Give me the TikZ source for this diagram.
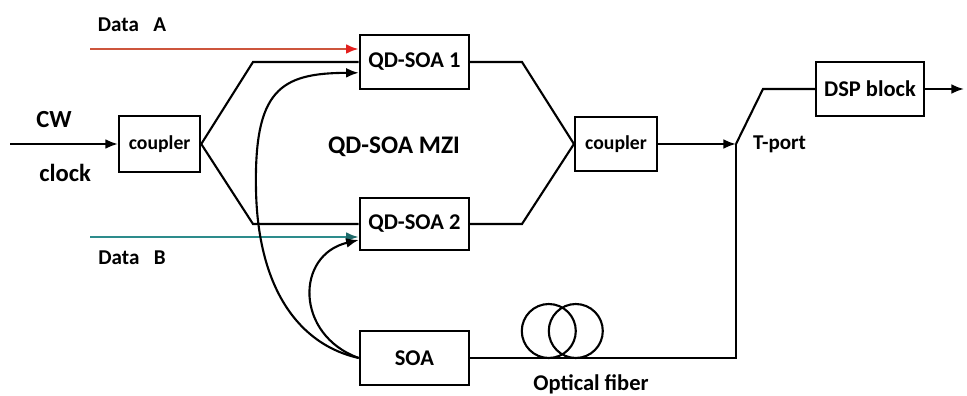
\documentclass[tikz,border=0pt]{standalone}
\usepackage{fontspec}
\setmainfont{Carlito}
\usetikzlibrary{arrows.meta}
\definecolor{dataRed}{RGB}{205,85,60}
\definecolor{tipRed}{RGB}{228,32,30}
\definecolor{dataTeal}{RGB}{45,140,140}
\definecolor{tipTeal}{RGB}{30,105,105}
\tikzset{
    block/.style={draw, line width=1.5pt, inner sep=0pt,
        minimum width=2.73cm, minimum height=1.35cm,
        font=\fontsize{16}{18}\selectfont\bfseries},
    cbox/.style={block, minimum width=2.03cm, minimum height=1.4cm,
        font=\fontsize{14}{16}\selectfont\bfseries},
    lbl/.style={font=\fontsize{15}{17}\selectfont\bfseries, inner sep=0pt}
}
\begin{document}
\begin{tikzpicture}[line width=1.5pt, >={Latex[length=9pt,width=7pt]}]
\useasboundingbox (0,0) rectangle (24.175,9.9);
%Bloecke
    \node[cbox] (cplA) at (3.99,6.3) {coupler};
    \node[block] (qdA) at (10.36,8.35) {QD-SOA 1};
    \node[block, minimum height=1.3cm] (qdB) at (10.36,4.3) {QD-SOA 2};
    \node[block] (soa) at (10.36,0.95) {SOA};
    \node[cbox, minimum width=2.05cm, minimum height=1.35cm] (cplB) at (15.4,6.3) {coupler};
    \node[block, minimum width=2.7cm] (dsp) at (21.75,7.675) {DSP block};

%Punkte
    \coordinate (cwIn) at (0.25,6.3);
    \coordinate (dataAIn) at (2.25,8.675);
    \coordinate (dataBIn) at (2.25,3.975);
    \coordinate (kneeUL) at (6.325,8.35);
    \coordinate (kneeLL) at (6.325,4.3);
    \coordinate (kneeUR) at (13.05,8.35);
    \coordinate (kneeLR) at (13.05,4.3);
    \coordinate (tport) at (18.4,6.3);
    \coordinate (tcorner) at (18.4,0.95);
    \coordinate (tknee) at (19.075,7.675);
    \coordinate (dspOut) at (24.1,7.675);

%MZI
    \draw[->] (cwIn) -- (cplA.west);
    \draw (cplA.east) -- (kneeUL) -- (qdA.west);
    \draw (cplA.east) -- (kneeLL) -- (qdB.west);
    \draw (qdA.east) -- (kneeUR) -- (cplB.west);
    \draw (qdB.east) -- (kneeLR) -- (cplB.west);

    %Daten
    \draw[dataRed, line width=1.9pt, -{Latex[length=9pt,width=7pt,color=tipRed]}]
        (dataAIn) -- (dataAIn -| qdA.west);
    \draw[dataTeal, line width=1.9pt, -{Latex[length=9pt,width=7pt,color=tipTeal]}]
        (dataBIn) -- (dataBIn -| qdB.west);

    %SOA Rueckfuehrung
    \draw[->] (soa.west) .. controls (7.5,1.275) and (6.45,2.65) .. (6.4,5.15)
        .. controls (6.35,7.65) and (7.0,8.075) .. (qdA.191);
    \draw[->] (soa.west) .. controls (7.375,1.525) and (7.375,3.525) .. (qdB.196);

%Ausgang
    \draw[->] (cplB.east) -- (tport);
    \draw (tport) -- (tknee) -- (dsp.west);
    \draw[->] (dsp.east) -- (dspOut);
    \draw (soa.east) -- (tcorner) -- (tport);

    %Faser
    \draw (13.72,1.625) circle (0.675);
    \draw (14.395,1.625) circle (0.675);

%Beschriftungen
    \node[lbl] (dataA) at (3.3,9.275) {Data~~~A};
    \node[lbl] (dataB) at (3.3,3.45) {Data~~~B};
    \node[lbl, font=\fontsize{17.5}{19}\selectfont\bfseries] (cw) at (1.35,6.9) {CW};
    \node[lbl, font=\fontsize{17.5}{19}\selectfont\bfseries] (clock) at (1.63,5.575) {clock};
    \node[lbl, font=\fontsize{18}{20}\selectfont\bfseries] (mzi) at (9.85,6.225) {QD-SOA MZI};
    \node[lbl, anchor=west] (tlabel) at (18.8,6.3) {T-port};
    \node[lbl, font=\fontsize{16}{18}\selectfont\bfseries] (fiber) at (14.775,0.3) {Optical fiber};

\end{tikzpicture}
\end{document}
